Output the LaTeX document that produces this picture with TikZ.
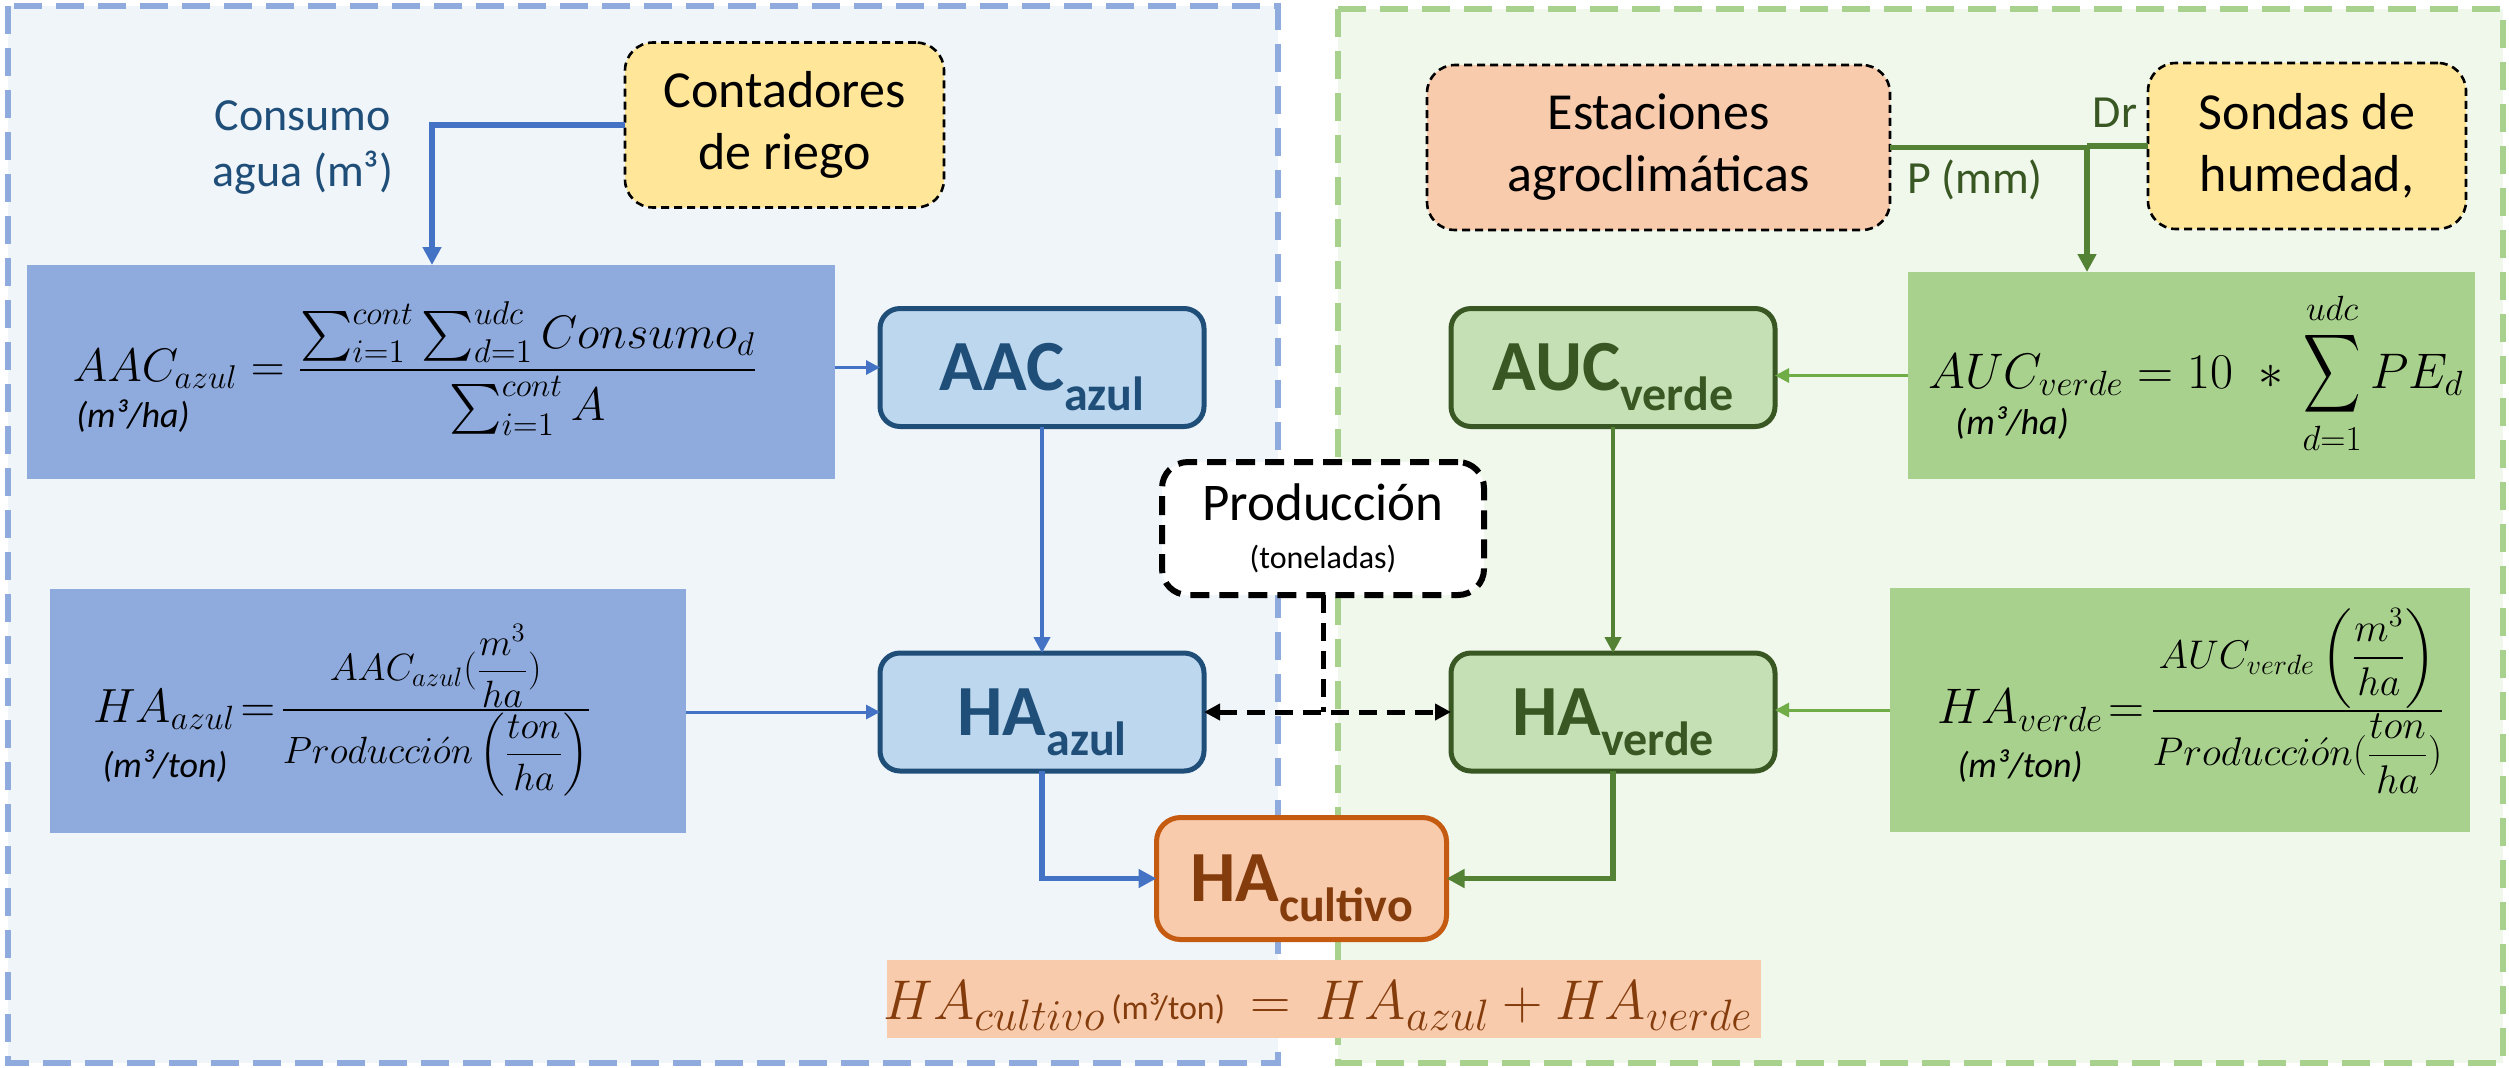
\RequirePackage{fix-cm}
\documentclass[tikz,border=0pt]{standalone}
\usepackage{amsmath}
\usepackage{graphicx}
\usepackage[no-math]{fontspec}
\setmainfont{Carlito}
\usetikzlibrary{arrows.meta}
\definecolor{panelB}{RGB}{240,245,250}
\definecolor{panelG}{RGB}{240,247,235}
\definecolor{dashB}{HTML}{8FAADC}
\definecolor{dashG}{HTML}{A9D18E}
\definecolor{fboxB}{HTML}{8FAADC}
\definecolor{fboxG}{HTML}{A9D18E}
\definecolor{nodeB}{HTML}{BDD7EE}
\definecolor{darkB}{HTML}{1F4E79}
\definecolor{nodeG}{HTML}{C5E0B4}
\definecolor{darkG}{HTML}{385723}
\definecolor{peach}{HTML}{F8CBAD}
\definecolor{orangeB}{HTML}{C55A11}
\definecolor{brownT}{HTML}{843C0C}
\definecolor{yel}{HTML}{FFE699}
\definecolor{arrB}{HTML}{4472C4}
\definecolor{arrG}{HTML}{548235}
\definecolor{arrGl}{HTML}{70AD47}
\newcommand{\fsz}[2]{\mbox{\fontsize{#1}{#1}\selectfont$#2$}}
\newcommand{\bsub}[2]{\fontsize{36}{40}\selectfont\bfseries #1\smash{\raisebox{-10pt}{\fontsize{24}{28}\selectfont #2}}}
\newcommand{\nsum}{\mathop{\mbox{\scalebox{0.8}[1.1]{$\displaystyle\sum$}}}\limits}
\begin{document}
\begin{tikzpicture}[x=0.5pt,y=-0.5pt,
  every node/.style={inner sep=0pt, outer sep=0pt},
  panelL/.style={draw=dashB, fill=panelB, line width=2.6pt, dash pattern=on 14pt off 7pt},
  panelR/.style={draw=dashG, fill=panelG, line width=2.6pt, dash pattern=on 14pt off 7pt},
  fbox/.style={draw=none, rectangle},
  bnode/.style={draw=darkB, fill=nodeB, text=darkB, line width=2.5pt, rounded corners=10pt, minimum width=162pt, minimum height=59pt},
  gnode/.style={draw=darkG, fill=nodeG, text=darkG, line width=2.5pt, rounded corners=10pt, minimum width=162pt, minimum height=59pt},
  srcbox/.style={draw=black, line width=1.3pt, dash pattern=on 4pt off 2.5pt, rounded corners=14pt, align=center, font=\fontsize{26}{31}\selectfont},
  munit/.style={font=\fontsize{18}{20}\selectfont\itshape},
  lblB/.style={font=\fontsize{23}{28}\selectfont, text=darkB, align=center},
  lblG/.style={font=\fontsize{23}{28}\selectfont, text=darkG},
  bthin/.style={draw=arrB, line width=1.5pt, -{Triangle[length=7pt,width=7pt]}},
  bmid/.style={draw=arrB, line width=2pt, -{Triangle[length=8pt,width=8pt]}},
  bthick/.style={draw=arrB, line width=2.8pt, -{Triangle[length=9pt,width=9pt]}},
  gthin/.style={draw=arrGl, line width=1.5pt, -{Triangle[length=7pt,width=7pt]}},
  gmid/.style={draw=arrG, line width=2pt, -{Triangle[length=8pt,width=8pt]}},
  gthick/.style={draw=arrG, line width=2.8pt, -{Triangle[length=9pt,width=9pt]}},
  gline/.style={draw=arrG, line width=2.8pt},
  dconn/.style={draw=black, line width=2.5pt, dash pattern=on 9pt off 5pt}
]
\useasboundingbox (0,0) rectangle (2509,1067);
% panels
\draw[panelL] (8,6) rectangle (1278,1063);
\draw[panelR] (1338,9) rectangle (2503,1063);

% formula boxes
\node[fbox, fill=fboxB, minimum width=404pt, minimum height=107pt] (aacbox) at (431,372) {};
\node[fbox, fill=fboxB, minimum width=318pt, minimum height=122pt] (habox) at (368,711) {};
\node[fbox, fill=fboxG, minimum width=283.5pt, minimum height=103.5pt] (aucbox) at (2191.5,375.5) {};
\node[fbox, fill=fboxG, minimum width=290pt, minimum height=122pt] (havbox) at (2180,710) {};
\node[fbox, fill=peach, minimum width=437pt, minimum height=39pt] (cultbox) at (1324,999) {};

% source boxes
\node[srcbox, fill=yel, minimum width=159.5pt, minimum height=82.5pt] (cont) at (784.5,125) {Contadores\\de riego};
\node[srcbox, fill=peach, minimum width=231.5pt, minimum height=82.5pt] (est) at (1658.5,147.5) {Estaciones\\agroclimáticas};
\node[srcbox, fill=yel, minimum width=159pt, minimum height=83pt] (son) at (2307,146) {Sondas de\\humedad,};
\node[draw=black, fill=white, line width=3pt, dash pattern=on 9.5pt off 5pt, rounded corners=13pt, minimum width=161pt, minimum height=66.5pt, align=center, font=\fontsize{26.5}{20}\selectfont] (prod) at (1323,528.5) {Producción\\[4pt]{\fontsize{16}{19}\selectfont (toneladas)}};

% main nodes
\node[bnode] (aac) at (1042,367.5) {\bsub{AAC}{azul}};
\node[bnode] (haazul) at (1042,712) {\bsub{HA}{azul}};
\node[gnode] (auc) at (1613,367.5) {\bsub{AUC}{verde}};
\node[gnode] (hav) at (1613,712) {\bsub{HA}{verde}};
\node[draw=orangeB, fill=peach, text=brownT, line width=2.5pt, rounded corners=12pt, minimum width=145pt, minimum height=61pt] (cult) at (1301.5,878.5) {\bsub{HA}{cultivo}};

% formulas
\node[anchor=base] (aacf) at (415,381.5) {\fontsize{23.5}{23.5}\selectfont $\displaystyle AAC_{azul} = \frac{\sum_{i=1}^{cont}\sum_{d=1}^{udc} Consumo_d}{\sum_{i=1}^{cont} A}$};
\node[munit] (aacu) at (133,416) {(m³/ha)};

\node[anchor=base] (aucf) at (2196,388) {\fontsize{25}{25}\selectfont $\displaystyle AUC_{verde} = 10\;\ast\,\nsum_{d=1}^{udc} PE_d$};
\node[munit] (aucu) at (2012,423) {(m³/ha)};

\node[anchor=base] (haf) at (342,722) {\fontsize{24}{24}\selectfont $HA_{azul}\!=\!\frac{\fsz{19}{AAC_{azul}(\dfrac{m^3}{ha})}}{\fsz{19}{Producci\acute{o}n\left(\dfrac{ton}{ha}\right)}}$};
\node[munit] (hau) at (165,766) {(m³/ton)};

\node[anchor=base] (hvf) at (2191,723.5) {\fontsize{25}{25}\selectfont $HA_{verde}\!=\!\frac{\fsz{20}{AUC_{verde}\left(\dfrac{m^3}{ha}\right)}}{\fsz{20}{Producci\acute{o}n(\dfrac{ton}{ha})}}$};
\node[munit] (hvu) at (2020,766) {(m³/ton)};

\node[anchor=base, text=brownT] (cultf) at (1318,1019) {\fontsize{28}{28}\selectfont $HA_{\fsz{22}{cultivo}}\mbox{\fontsize{17}{17}\selectfont\,(m³/ton)}\,=\,HA_{\fsz{22}{azul}}+HA_{\fsz{22}{verde}}$};

% labels
\node[lblB] (conslbl) at (303,148) {Consumo\\agua (m³)};
\node[lblG] (plbl) at (1975,180) {P (mm)};
\node[lblG] (drlbl) at (2115,113) {Dr};

% connectors
\coordinate (consx) at (432,0);
\draw[bthick] (cont.west) -| (consx |- aacbox.north);
\draw[bthin] (aacbox.east |- aac.west) -- (aac.west);
\draw[bmid] (aac.south) -- (haazul.north);
\draw[bthin] (habox.east |- haazul.west) -- (haazul.west);
\draw[bthick] (haazul.south) |- (cult.west);

\coordinate (jn) at (2087,146);
\draw[gline] (est.east) -- (est.east -| jn);
\draw[gline] (son.west) -- (son.west -| jn);
\draw[gthick] (jn) -- (jn |- aucbox.north);
\draw[gthin] (aucbox.west) -- (aucbox.west -| auc.east);
\draw[gmid] (auc.south) -- (hav.north);
\draw[gthin] (havbox.west) -- (havbox.west -| hav.east);
\draw[gthick] (hav.south) |- (cult.east);

\draw[dconn] (prod.south) -- (prod.south |- haazul.east);
\draw[dconn, {Triangle[length=8pt,width=8pt]}-{Triangle[length=8pt,width=8pt]}] (haazul.east) -- (hav.west);
\end{tikzpicture}
\end{document}
